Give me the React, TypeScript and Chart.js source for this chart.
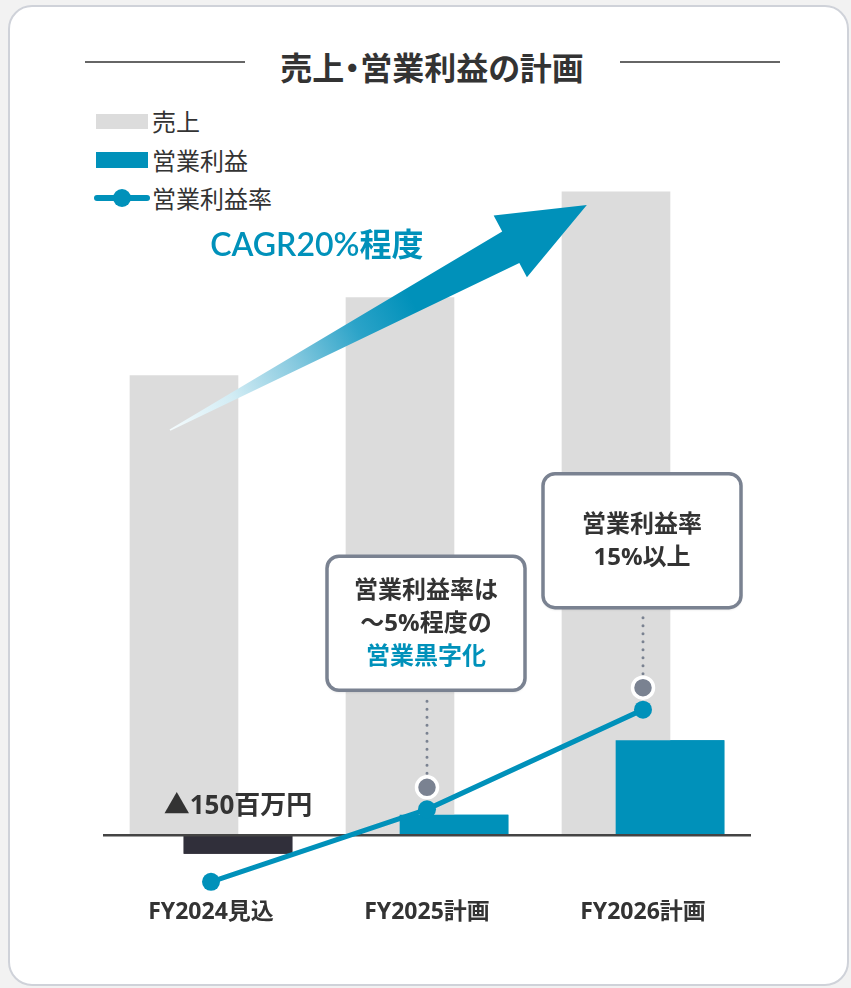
import React, { useEffect, useRef } from "react";
import { Chart, registerables } from "chart.js";

Chart.register(...registerables);

// ---- data ----
const title = "売上・営業利益の計画";
const categories = ["FY2024見込", "FY2025計画", "FY2026計画"];
const sales = [3830, 4480, 5360]; // 売上 (百万円)
const operatingProfit = [-150, 170, 790]; // 営業利益 (百万円)
const operatingMargin = [-4, 4, 15]; // 営業利益率 (%)
const legendLabels = ["売上", "営業利益", "営業利益率"];
const lossLabel = "▲150百万円";
const cagrLabel = "CAGR20%程度";
const callout2025 = ["営業利益率は", "～5%程度の", "営業黒字化"];
const callout2026 = ["営業利益率", "15%以上"];

// ---- styles ----
const BLUE = "#0091ba";
const GRAY_BAR = "#dcdcdc";
const DARK = "#302f3a";
const TEXT = "#333333";
const BOX = "#7a8291";
const FONT_JP = "'Noto Sans CJK JP', 'Noto Sans', sans-serif";
const FONT_MIX = "'Open Sans', 'Noto Sans CJK JP', sans-serif";

export default function App() {
  const ref = useRef<HTMLCanvasElement>(null);

  useEffect(() => {
    const canvas = ref.current;
    if (!canvas) return;

    const annotate = {
      id: "annotate",
      afterDatasetDraw(chart: any, args: any) {
        if (args.index !== 1) return;
        // profit bars over the sales bars
        chart.getDatasetMeta(2).controller.draw();
        const { ctx, chartArea } = chart;
        const y0 = chart.scales.y.getPixelForValue(0);
        ctx.save();
        ctx.strokeStyle = "#444";
        ctx.lineWidth = 2.5;
        ctx.beginPath();
        ctx.moveTo(chartArea.left, y0);
        ctx.lineTo(chartArea.right, y0);
        ctx.stroke();
        ctx.restore();
      },
      afterDatasetsDraw(chart: any) {
        const { ctx } = chart;
        const xs = chart.scales.x;
        const ys = chart.scales.y;
        const cw = xs.getPixelForValue(1) - xs.getPixelForValue(0);
        // CAGR arrow
        const tx = xs.getPixelForValue(0) - 0.19 * cw;
        const ty = ys.getPixelForValue(3375);
        const hx = xs.getPixelForValue(2) - 0.26 * cw;
        const hy = ys.getPixelForValue(5250);
        const dx = hx - tx;
        const dy = hy - ty;
        const len = Math.hypot(dx, dy);
        const ux = dx / len;
        const uy = dy / len;
        const nx = uy;
        const ny = -ux;
        const P = (a: number, p: number) => [hx + ux * a + nx * p, hy + uy * a + ny * p];
        const pts = [
          P(0, 0),
          P(-87, 35),
          P(-87, 17),
          P(-len, 0.8),
          P(-len, -0.8),
          P(-87, -19),
          P(-87, -35),
        ];
        const g = ctx.createLinearGradient(tx, ty, hx, hy);
        g.addColorStop(0, "#f4fbfd");
        g.addColorStop(0.15, "#d2ecf4");
        g.addColorStop(0.3, "#86c9df");
        g.addColorStop(0.45, "#2ba3c8");
        g.addColorStop(0.58, BLUE);
        g.addColorStop(1, BLUE);
        ctx.save();
        ctx.fillStyle = g;
        ctx.beginPath();
        pts.forEach((p, i) => (i === 0 ? ctx.moveTo(p[0], p[1]) : ctx.lineTo(p[0], p[1])));
        ctx.closePath();
        ctx.fill();
        // CAGR label
        ctx.fillStyle = BLUE;
        ctx.font = `600 32px Lato, ${FONT_JP}`;
        ctx.textAlign = "center";
        ctx.textBaseline = "middle";
        ctx.fillText(cagrLabel, xs.getPixelForValue(0) + 0.49 * cw, ys.getPixelForValue(4908));
        ctx.restore();
      },
      afterDraw(chart: any) {
        const { ctx } = chart;
        const xs = chart.scales.x;
        const ys = chart.scales.y;
        const y0 = ys.getPixelForValue(0);
        const profitMeta = chart.getDatasetMeta(2);
        const lineMeta = chart.getDatasetMeta(0);
        ctx.save();
        // loss label
        ctx.fillStyle = TEXT;
        ctx.font = `bold 26px ${FONT_MIX}`;
        ctx.textAlign = "center";
        ctx.textBaseline = "middle";
        ctx.fillText(lossLabel, profitMeta.data[0].x, y0 - 29);

        const callouts = [
          { index: 1, lines: callout2025, colors: [TEXT, TEXT, BLUE], gap: 97 },
          { index: 2, lines: callout2026, colors: [TEXT, TEXT], gap: 80 },
        ];
        for (const c of callouts) {
          const pt = lineMeta.data[c.index];
          const cx = xs.getPixelForValue(c.index) - 1;
          const my = pt.y - 22;
          const w = 198;
          const h = 134;
          const bottom = my - c.gap;
          const top = bottom - h;
          // dotted connector
          ctx.save();
          ctx.strokeStyle = BOX;
          ctx.lineWidth = 3;
          ctx.lineCap = "round";
          ctx.setLineDash([0, 8]);
          ctx.beginPath();
          ctx.moveTo(pt.x, my - 14);
          ctx.lineTo(pt.x, bottom + 5);
          ctx.stroke();
          ctx.restore();
          // marker
          ctx.beginPath();
          ctx.arc(pt.x, my, 10.5, 0, Math.PI * 2);
          ctx.fillStyle = BOX;
          ctx.fill();
          ctx.lineWidth = 3.5;
          ctx.strokeStyle = "#ffffff";
          ctx.stroke();
          // box
          ctx.save();
          ctx.shadowColor = "rgba(0,0,0,0.18)";
          ctx.shadowBlur = 3;
          ctx.shadowOffsetY = 1.5;
          ctx.beginPath();
          ctx.roundRect(cx - w / 2, top, w, h, 12);
          ctx.fillStyle = "#ffffff";
          ctx.fill();
          ctx.restore();
          ctx.beginPath();
          ctx.roundRect(cx - w / 2, top, w, h, 12);
          ctx.lineWidth = 3.5;
          ctx.strokeStyle = BOX;
          ctx.stroke();
          // text
          ctx.font = `bold 24px ${FONT_MIX}`;
          const lh = 33;
          const first = top + h / 2 + 1 - ((c.lines.length - 1) * lh) / 2;
          c.lines.forEach((t, i) => {
            ctx.fillStyle = c.colors[i];
            ctx.fillText(t, cx, first + i * lh);
          });
        }
        ctx.restore();
      },
    };

    const chart = new Chart(canvas, {
      type: "bar",
      data: {
        labels: categories,
        datasets: [
          {
            type: "line",
            label: legendLabels[2],
            data: operatingMargin,
            yAxisID: "y2",
            borderColor: BLUE,
            borderWidth: 5,
            pointRadius: 9,
            pointBackgroundColor: BLUE,
            pointBorderWidth: 0,
            order: 0,
          } as any,
          {
            type: "bar",
            label: legendLabels[0],
            data: sales,
            yAxisID: "y",
            backgroundColor: GRAY_BAR,
            categoryPercentage: 0.5,
            barPercentage: 2,
            order: 1,
          },
          {
            type: "bar",
            label: legendLabels[1],
            data: operatingProfit,
            yAxisID: "y",
            backgroundColor: [DARK, BLUE, BLUE],
            categoryPercentage: 0.5,
            barPercentage: 2,
            order: 2,
          },
        ],
      },
      options: {
        responsive: false,
        maintainAspectRatio: false,
        animation: false,
        devicePixelRatio: 1,
        layout: { padding: { left: 103, right: 100, top: 175, bottom: 59 } },
        plugins: { legend: { display: false }, tooltip: { enabled: false }, title: { display: false } },
        scales: {
          x: {
            type: "category",
            grid: { display: false, drawTicks: false },
            border: { display: false },
            ticks: {
              color: TEXT,
              padding: 3,
              font: { family: FONT_MIX, size: 23, weight: "bold" },
            },
          },
          y: { display: false, min: -500, max: 5500 },
          y2: { display: false, min: -5.5, max: 74 },
        },
      } as any,
      plugins: [annotate],
    });
    return () => chart.destroy();
  }, []);

  const legendText: React.CSSProperties = {
    position: "absolute",
    left: 152,
    fontSize: 24,
    lineHeight: "30px",
    color: TEXT,
    fontFamily: FONT_JP,
    whiteSpace: "nowrap",
  };

  return (
    <div
      style={{
        position: "absolute",
        left: 0,
        top: 0,
        width: 851,
        height: 988,
        overflow: "hidden",
        background: "#f2f2f2",
        fontFamily: FONT_JP,
      }}
    >
      <div
        style={{
          position: "absolute",
          left: 8,
          top: 5,
          width: 841,
          height: 981,
          boxSizing: "border-box",
          border: "2px solid #cfd2d9",
          borderRadius: 24,
          background: "#ffffff",
        }}
      />
      {/* title */}
      <div style={{ position: "absolute", left: 85, top: 61, width: 160, height: 2, background: "#666" }} />
      <div style={{ position: "absolute", left: 620, top: 61, width: 160, height: 2, background: "#666" }} />
      <div
        style={{
          position: "absolute",
          left: 432,
          top: 45,
          transform: "translateX(-50%)",
          fontSize: 32,
          lineHeight: "42px",
          fontWeight: 700,
          color: TEXT,
          whiteSpace: "nowrap",
          fontFeatureSettings: "'palt'",
        }}
      >
        {title}
      </div>
      {/* legend */}
      <div style={{ position: "absolute", left: 96, top: 114, width: 52, height: 15, background: GRAY_BAR }} />
      <div style={{ ...legendText, top: 106 }}>{legendLabels[0]}</div>
      <div style={{ position: "absolute", left: 96, top: 152, width: 52, height: 16, background: BLUE }} />
      <div style={{ ...legendText, top: 145 }}>{legendLabels[1]}</div>
      <div
        style={{ position: "absolute", left: 94, top: 195, width: 56, height: 6, borderRadius: 3, background: BLUE }}
      />
      <div
        style={{ position: "absolute", left: 113, top: 189, width: 18, height: 18, borderRadius: 9, background: BLUE }}
      />
      <div style={{ ...legendText, top: 183 }}>{legendLabels[2]}</div>
      <canvas ref={ref} width={851} height={988} style={{ position: "absolute", left: 0, top: 0 }} />
    </div>
  );
}
